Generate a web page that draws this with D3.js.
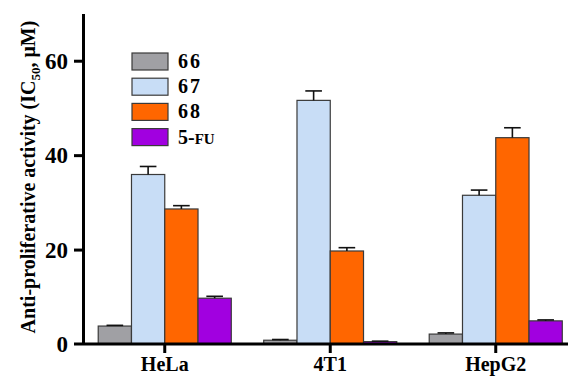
<!DOCTYPE html>
<html>
<head>
<meta charset="utf-8">
<script src="https://cdn.jsdelivr.net/npm/d3@7"></script>
<style>
  body { margin: 0; background: #fff; }
  svg { display: block; font-family: "Liberation Serif", "Times New Roman", serif; font-weight: bold; }
</style>
</head>
<body>
<div id="chart"></div>
<script>
// Data
const cellLines = ["HeLa", "4T1", "HepG2"];
const compounds = ["66", "67", "68", "5-FU"];
const colors = ["#a0a0a4", "#c8ddf6", "#ff6600", "#a100e0"];
// IC50 mean values per compound, in cellLines order
const ic50_66 = [3.8, 0.8, 2.1];
const ic50_67 = [35.9, 51.6, 31.5];
const ic50_68 = [28.6, 19.7, 43.7];
const ic50_5fu = [9.7, 0.5, 4.9];
// upper error (SD)
const err_66 = [0.15, 0.15, 0.25];
const err_67 = [1.7, 2.0, 1.1];
const err_68 = [0.7, 0.7, 2.1];
const err_5fu = [0.4, 0.1, 0.2];
const yTicks = [0, 20, 40, 60];

const means = [ic50_66, ic50_67, ic50_68, ic50_5fu];
const errs = [err_66, err_67, err_68, err_5fu];

/************************************
 * Draw grouped bar chart
 ************************************/
const w = 568;
const h = 377;

const svg = d3.select("#chart")
  .append("svg")
  .attr("width", w)
  .attr("height", h);

const rows = [];
compounds.forEach((c, i) => {
  cellLines.forEach((cl, j) => {
    rows.push({ compound: c, cell: cl, value: means[i][j], err: errs[i][j], color: colors[i] });
  });
});

// Scales
const yScale = d3.scaleLinear()
  .domain([0, 70])
  .range([344, 13.5]);

const x0 = d3.scaleBand()
  .domain(cellLines)
  .range([82, 578.5])
  .paddingInner(0.196)
  .paddingOuter(0.098);

const x1 = d3.scaleBand()
  .domain(compounds)
  .range([0, x0.bandwidth()]);

// Bars
svg.selectAll("rect.bar")
  .data(rows)
  .enter()
  .append("rect")
  .attr("class", "bar")
  .attr("x", d => x0(d.cell) + x1(d.compound))
  .attr("y", d => yScale(d.value))
  .attr("width", x1.bandwidth())
  .attr("height", d => yScale(0) - yScale(d.value))
  .style("fill", d => d.color)
  .style("stroke", "#3a3a3a")
  .style("stroke-width", 1.2);

// Error bars (upper only)
const cap = x1.bandwidth() * 0.25;
const eb = svg.selectAll("g.err")
  .data(rows)
  .enter()
  .append("g")
  .attr("class", "err")
  .style("stroke", "#111")
  .style("stroke-width", 1.6);

eb.append("line")
  .attr("x1", d => x0(d.cell) + x1(d.compound) + x1.bandwidth() / 2)
  .attr("x2", d => x0(d.cell) + x1(d.compound) + x1.bandwidth() / 2)
  .attr("y1", d => yScale(d.value))
  .attr("y2", d => yScale(d.value + d.err));

eb.append("line")
  .attr("x1", d => x0(d.cell) + x1(d.compound) + x1.bandwidth() / 2 - cap)
  .attr("x2", d => x0(d.cell) + x1(d.compound) + x1.bandwidth() / 2 + cap)
  .attr("y1", d => yScale(d.value + d.err))
  .attr("y2", d => yScale(d.value + d.err));

// Axes
const yAxis = d3.axisLeft(yScale)
  .tickValues(yTicks)
  .tickSize(9)
  .tickPadding(6)
  .tickSizeOuter(0);

const gy = svg.append("g")
  .attr("transform", "translate(83,0)")
  .call(yAxis);
gy.select(".domain").style("stroke", "#000").style("stroke-width", 3);
gy.selectAll(".tick line").style("stroke", "#000").style("stroke-width", 3);
gy.selectAll(".tick text")
  .style("font-family", "'Liberation Serif', serif")
  .style("font-weight", "bold")
  .style("font-size", "23px")
  .attr("dy", "0.34em")
  .style("fill", "#000");
gy.selectAll(".tick").filter(d => d === 0).select("line").remove();

const xAxis = d3.axisBottom(x0)
  .tickSize(9)
  .tickPadding(4)
  .tickSizeOuter(0);

const gx = svg.append("g")
  .attr("transform", "translate(0,344)")
  .call(xAxis);
gx.select(".domain")
  .attr("d", "M74,0H568")
  .style("stroke", "#000")
  .style("stroke-width", 3);
gx.selectAll(".tick line").style("stroke", "#000").style("stroke-width", 3);
gx.selectAll(".tick text")
  .style("font-family", "'Liberation Serif', serif")
  .style("font-weight", "bold")
  .style("font-size", "20px")
  .style("fill", "#000");

// Y axis label
const ylab = svg.append("text")
  .attr("transform", "translate(35,177) rotate(-90)")
  .attr("text-anchor", "middle")
  .style("font-size", "20px");
ylab.append("tspan").text("Anti-proliferative activity (IC");
ylab.append("tspan").attr("dy", 5).style("font-size", "13px").text("50");
ylab.append("tspan").attr("dy", -5).text(", \u03BCM)");

// Legend
const legend = svg.selectAll("g.legend")
  .data(compounds)
  .enter()
  .append("g")
  .attr("class", "legend")
  .attr("transform", (d, i) => "translate(132," + (53 + i * 25.2) + ")");

legend.append("rect")
  .attr("width", 36)
  .attr("height", 17)
  .style("fill", (d, i) => colors[i])
  .style("stroke", "#3a3a3a")
  .style("stroke-width", 1.2);

legend.append("text")
  .attr("x", 46)
  .attr("y", 15)
  .style("font-size", "20px")
  .each(function (d) {
    const t = d3.select(this);
    if (d === "5-FU") {
      t.append("tspan").text("5-");
      t.append("tspan").style("font-size", "15px").text("FU");
    } else {
      t.style("letter-spacing", "2px").text(d);
    }
  });
</script>
</body>
</html>
